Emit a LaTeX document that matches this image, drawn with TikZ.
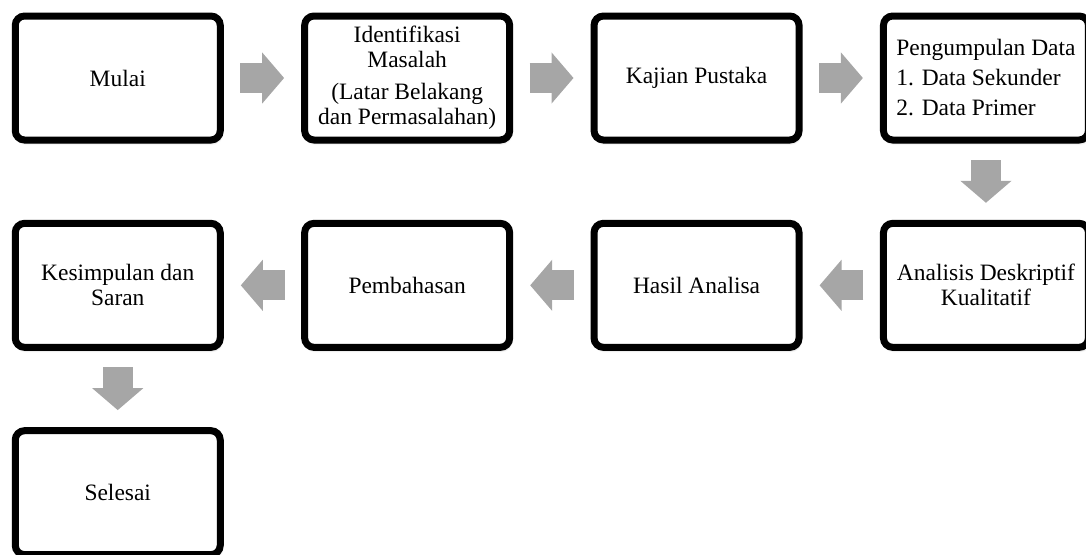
\documentclass[tikz,border=0pt]{standalone}
\usepackage{fontspec}
\setmainfont{Liberation Serif}
\usetikzlibrary{positioning,arrows.meta,shadows.blur}
\definecolor{arrowgray}{HTML}{A6A6A6}

\tikzset{
  stepbox/.style={draw=black, line width=5.25pt, rounded corners=7pt, fill=white,
    minimum width=153.75pt, minimum height=93pt, inner sep=0pt, outer sep=0pt,
    align=center, font=\fontsize{17.6}{18.75}\selectfont,
    blur shadow={shadow xshift=0.8pt, shadow yshift=-2pt, shadow blur steps=6, shadow opacity=35}},
  flow/.style={arrowgray, line width=22.5pt, shorten <=15pt, shorten >=15.4pt,
    -{Triangle[length=16.5pt, width=37.5pt]}}
}

\begin{document}
\begin{tikzpicture}[x=0.75pt, y=-0.75pt, node distance=62.5pt and 63.3pt]
  \useasboundingbox (0,0) rectangle (1086,554);

  % Baris pertama
  \node[stepbox] (mulai) at (117.75,78) {Mulai};
  \node[stepbox, right=of mulai] (identifikasi) {Identifikasi\\Masalah\\[5.25pt](Latar Belakang\\dan Permasalahan)};
  \node[stepbox, right=of identifikasi] (kajian) {Kajian Pustaka};
  \node[stepbox, right=of kajian, align=left] (pengumpulan) {Pengumpulan Data\\[3.75pt]1. Data Sekunder\\[3.75pt]2. Data Primer};

  % Baris kedua
  \node[stepbox, below=of pengumpulan] (analisis) {Analisis Deskriptif\\Kualitatif};
  \node[stepbox, left=of analisis] (hasil) {Hasil Analisa};
  \node[stepbox, left=of hasil] (pembahasan) {Pembahasan};
  \node[stepbox, left=of pembahasan] (kesimpulan) {Kesimpulan dan\\Saran};

  % Baris ketiga
  \node[stepbox, below=of kesimpulan] (selesai) {Selesai};

  % Panah
  \draw[flow] (mulai) -- (identifikasi);
  \draw[flow] (identifikasi) -- (kajian);
  \draw[flow] (kajian) -- (pengumpulan);
  \draw[flow] (pengumpulan) -- (analisis);
  \draw[flow] (analisis) -- (hasil);
  \draw[flow] (hasil) -- (pembahasan);
  \draw[flow] (pembahasan) -- (kesimpulan);
  \draw[flow] (kesimpulan) -- (selesai);
\end{tikzpicture}
\end{document}
